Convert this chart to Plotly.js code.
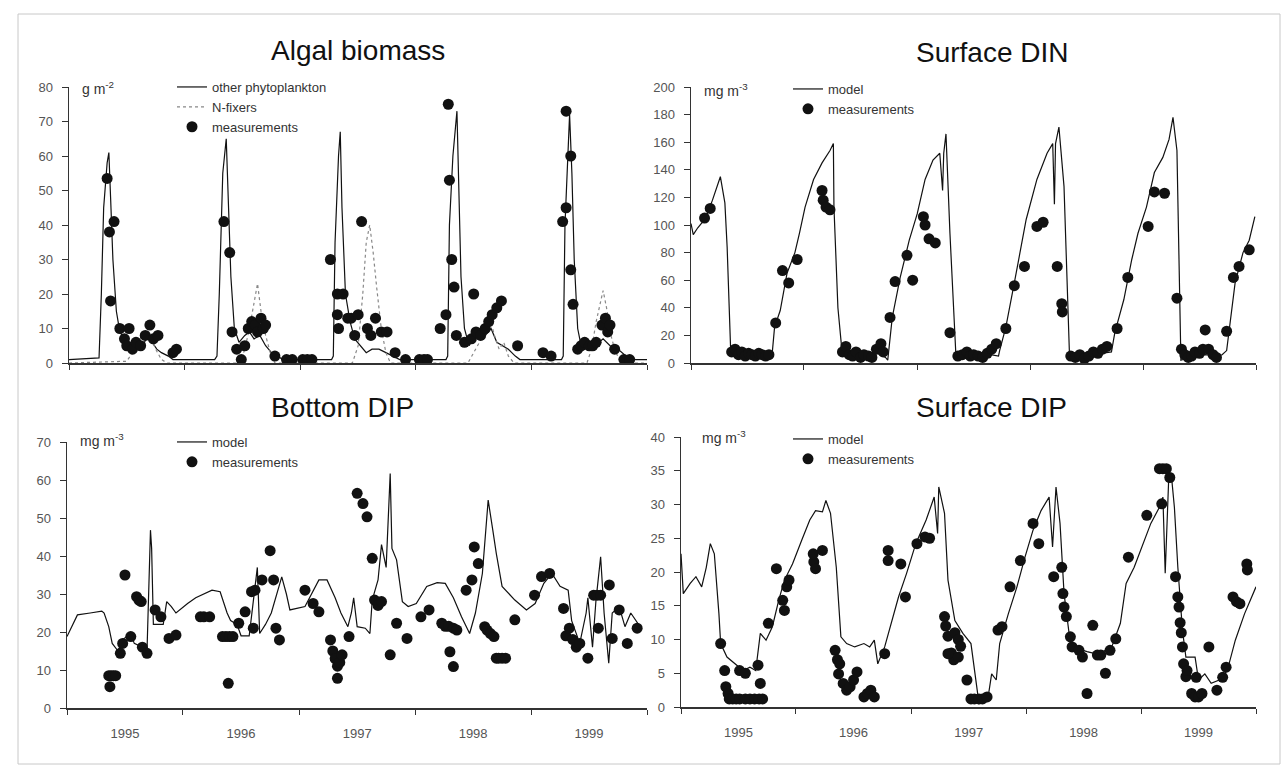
<!DOCTYPE html>
<html>
<head>
<meta charset="utf-8">
<script src="https://cdn.plot.ly/plotly-3.0.1.min.js"></script>
<style>html,body{margin:0;padding:0;background:#fff;}#chart{width:1287px;height:770px;}</style>
</head>
<body>
<div id="chart"></div>
<script>
// ---------- Data (time in decimal years) ----------
// Algal biomass (g m-2)
const algalOtherT = [1995.00,1995.26,1995.28,1995.30,1995.33,1995.345,1995.36,1995.38,1995.41,1995.44,1995.48,1995.52,1995.56,1995.60,1995.64,1995.68,1995.72,1995.76,1995.80,1995.86,1995.90,
  1996.26,1996.28,1996.30,1996.33,1996.36,1996.38,1996.40,1996.43,1996.47,1996.52,1996.56,1996.60,1996.65,1996.70,1996.75,1996.80,1996.85,
  1997.27,1997.285,1997.30,1997.33,1997.345,1997.36,1997.39,1997.43,1997.47,1997.52,1997.57,1997.62,1997.68,1997.74,1997.80,1997.86,
  1998.26,1998.275,1998.29,1998.32,1998.355,1998.37,1998.39,1998.42,1998.46,1998.50,1998.55,1998.60,1998.65,1998.70,1998.75,1998.80,1998.86,1998.90,
  1999.26,1999.275,1999.29,1999.31,1999.33,1999.35,1999.37,1999.40,1999.43,1999.48,1999.55,1999.62,1999.68,1999.75,1999.82,1999.90,2000.00];
const algalOtherV = [1,1.5,20,45,58,61,48,30,15,9,7,5,4,6,5,8,6,4,3,2,1,
  1,2,20,55,65,45,25,10,6,8,9,7,8,5,3,2,1,
  1,2,35,60,67,45,20,12,7,5,3,4,4,3,2,1,
  1,2,40,60,73,50,25,10,5,7,9,8,10,6,5,4,2,1,
  1,2,40,57,72,55,30,10,5,4,5,7,5,4,2,1,1];
const nfixT = [1995.00,1995.50,1995.55,1995.60,1995.65,1995.70,1995.75,1995.80,1995.85,
  1996.48,1996.52,1996.56,1996.60,1996.63,1996.66,1996.70,1996.74,1996.78,
  1997.45,1997.50,1997.54,1997.57,1997.60,1997.63,1997.66,1997.70,1997.74,1997.78,
  1998.45,1998.50,1998.55,1998.60,1998.64,1998.68,1998.72,1998.76,1998.80,1998.85,
  1999.48,1999.52,1999.56,1999.60,1999.62,1999.65,1999.68,1999.72,1999.76,1999.80,2000.00];
const nfixV = [0,0.5,3,6,9,8,4,1,0,
  0,4,10,17,23,15,8,3,0,
  0,5,20,35,40,32,22,10,3,0,
  0,3,6,10,13,8,4,6,2,0,
  0,4,12,18,21,16,9,4,1,0,0];
const algalMeasT = [1995.33,1995.35,1995.39,1995.36,1995.44,1995.52,1995.48,1995.50,1995.55,1995.58,1995.62,1995.66,1995.70,1995.73,1995.77,1995.90,1995.93,
  1996.34,1996.39,1996.41,1996.45,1996.49,1996.52,1996.55,1996.58,1996.61,1996.63,1996.66,1996.68,1996.70,1996.78,1996.88,1996.93,1997.02,1997.06,1997.10,
  1997.26,1997.32,1997.37,1997.32,1997.33,1997.41,1997.44,1997.47,1997.50,1997.53,1997.58,1997.61,1997.65,1997.70,1997.75,1997.82,1997.91,1998.03,1998.07,1998.10,
  1998.21,1998.26,1998.28,1998.29,1998.31,1998.33,1998.35,1998.42,1998.50,1998.48,1998.52,1998.56,1998.60,1998.63,1998.66,1998.70,1998.74,1998.88,
  1999.10,1999.17,1999.27,1999.30,1999.30,1999.34,1999.34,1999.36,1999.40,1999.43,1999.46,1999.50,1999.53,1999.56,1999.61,1999.64,1999.66,1999.68,1999.72,1999.80,1999.85];
const algalMeasV = [53.5,38,41,18,10,10,7,5,4,6,5,8,11,7,8,3,4,
  41,32,9,4,1,5,10,12,11,9,13,10,11,2,1,1,1,1,1,
  30,20,20,14,10,13,13,8,14,41,10,8,13,9,9,3,1,1,1,1,
  10,14,75,53,30,22,8,6,20,7,9,8,10,12,14,16,18,5,
  3,2,41,45,73,60,27,17,4,5,6,5,5,6,11,13,9,11,4,1,1];

// Surface DIN (mg m-3)
const dinModelT = [1995.00,1995.02,1995.06,1995.13,1995.19,1995.26,1995.30,1995.32,1995.35,1995.40,1995.50,1995.60,1995.70,1995.72,
  1995.74,1995.79,1995.85,1995.92,1995.96,1996.01,1996.085,1996.16,1996.23,1996.26,1996.265,1996.30,1996.34,1996.45,1996.55,1996.65,1996.72,
  1996.74,1996.78,1996.85,1996.93,1997.00,1997.07,1997.14,1997.20,1997.225,1997.235,1997.255,1997.29,1997.345,1997.45,1997.55,1997.65,1997.72,
  1997.73,1997.785,1997.86,1997.91,1997.965,1998.06,1998.15,1998.20,1998.215,1998.225,1998.255,1998.30,1998.35,1998.45,1998.55,1998.65,1998.72,
  1998.75,1998.83,1998.90,1998.955,1999.03,1999.10,1999.175,1999.23,1999.265,1999.30,1999.335,1999.45,1999.55,1999.65,1999.70,
  1999.74,1999.815,1999.885,1999.94,1999.99];
const dinModelV = [101,93,98,105,118,135,116,84,12,7,6,5,6,8,
  26,38,65,80,94,113,133,145,154,159,113,40,5,6,5,7,4,
  2,33,62,89,108,133,147,152,125,152,166,94,2,5,4,6,5,
  9,26,58,80,104,133,152,159,115,159,171,128,2,5,6,7,8,
  22,46,75,94,113,138,149,162,178,154,2,5,6,5,6,
  9,58,80,89,106];
const dinMeasT = [1995.12,1995.17,1995.36,1995.39,1995.42,1995.45,1995.48,1995.51,1995.54,1995.57,1995.60,1995.63,1995.66,1995.69,
  1995.75,1995.81,1995.865,1995.94,1996.16,1996.17,1996.195,1996.23,
  1996.34,1996.37,1996.40,1996.43,1996.46,1996.50,1996.53,1996.57,1996.60,1996.64,1996.68,1996.70,
  1996.76,1996.805,1996.91,1996.96,1997.055,1997.07,1997.105,1997.16,1997.29,
  1997.36,1997.40,1997.44,1997.47,1997.50,1997.54,1997.58,1997.62,1997.66,1997.70,
  1997.785,1997.86,1997.95,1998.06,1998.115,1998.24,1998.28,1998.285,
  1998.36,1998.40,1998.44,1998.48,1998.52,1998.56,1998.60,1998.64,1998.68,
  1998.77,1998.865,1999.045,1999.10,1999.19,1999.30,
  1999.34,1999.37,1999.40,1999.43,1999.46,1999.50,1999.53,1999.55,1999.58,1999.62,1999.65,
  1999.74,1999.80,1999.85,1999.94];
const dinMeasV = [105,112,8,10,6,8,5,7,6,5,7,6,5,6,
  29,67,58,75,125,118,113,111,
  8,12,6,5,8,4,6,5,4,10,14,8,
  33,59,78,60,106,100,90,87,22,
  5,6,8,5,6,5,4,7,10,14,
  25,56,70,99,102,70,43,37,
  5,4,6,3,5,8,7,10,12,
  25,62,99,124,123,47,
  10,6,4,5,8,7,10,24,10,6,4,
  23,62,70,82];

// Bottom DIP (mg m-3)
const bdipModelT = [1995.00,1995.09,1995.20,1995.30,1995.32,1995.36,1995.39,1995.44,1995.48,1995.55,1995.58,1995.65,1995.69,1995.72,1995.73,1995.745,1995.83,1995.86,1995.90,1995.94,
  1996.04,1996.11,1996.25,1996.32,1996.38,1996.41,1996.465,1996.50,1996.57,1996.64,1996.66,1996.71,1996.76,1996.85,1996.89,1996.92,
  1997.05,1997.12,1997.17,1997.24,1997.31,1997.36,1997.42,1997.45,1997.47,1997.50,1997.57,1997.61,1997.63,1997.68,1997.71,1997.75,1997.785,1997.80,1997.84,1997.89,1997.94,
  1998.01,1998.10,1998.19,1998.26,1998.33,1998.40,1998.47,1998.52,1998.58,1998.63,1998.67,1998.70,1998.75,1998.86,1998.96,
  1999.035,1999.11,1999.18,1999.25,1999.32,1999.35,1999.42,1999.475,1999.49,1999.53,1999.56,1999.60,1999.63,1999.67,1999.70,1999.76,1999.81,1999.86,1999.94];
const bdipModelV = [18.8,24.5,25,25.5,25,21.4,17,15,18,19.6,17,16,15,46.8,42,22,22,28,26.7,25,
  27.5,29,31,30.6,25,23,22,19,19,37,19.6,22,25,34.5,30,25.8,
  26.7,31,33.7,33.7,29,25,21.4,25,29,21.4,21,19.6,28.4,33.7,43,37,61.7,42,39,28,26.7,
  27.5,32,33,32.8,29,24,19.6,25,35.4,54.7,46.8,40.7,32,28.4,25.8,
  27.5,32.8,35.4,32,31,23,17,25,29,16,28.4,39.8,25,11.8,25,26.7,21.4,25,21.4];
const bdipMeasT = [1995.36,1995.38,1995.40,1995.42,1995.37,1995.46,1995.48,1995.50,1995.55,1995.60,1995.62,1995.64,1995.65,1995.69,1995.76,1995.81,1995.88,1995.94,
  1996.15,1996.18,1996.23,1996.34,1996.37,1996.40,1996.43,1996.39,1996.48,1996.535,1996.605,1996.59,1996.62,1996.68,1996.75,1996.78,1996.80,1996.83,
  1997.05,1997.12,1997.17,1997.27,1997.29,1997.31,1997.33,1997.35,1997.37,1997.33,1997.43,1997.50,1997.55,1997.585,1997.63,1997.65,1997.68,1997.71,1997.785,1997.84,1997.93,
  1998.05,1998.12,1998.23,1998.26,1998.29,1998.33,1998.36,1998.30,1998.33,1998.44,1998.51,1998.49,1998.545,1998.60,1998.62,1998.65,1998.68,1998.70,1998.72,1998.75,1998.78,1998.86,
  1999.03,1999.09,1999.16,1999.28,1999.30,1999.33,1999.36,1999.39,1999.42,1999.49,1999.54,1999.57,1999.60,1999.58,1999.675,1999.70,1999.76,1999.83,1999.915];
const bdipMeasV = [8.5,8.5,8.5,8.5,5.6,14.4,17,35,18.8,29.3,28.4,28,16,14.4,25.8,24,18.3,19.2,
  24,24,24,18.8,18.8,18.8,18.8,6.5,22.3,25.3,21,30.6,31,33.7,41.4,33.7,21,17.9,
  31,27.5,25.3,17.9,15,13,11,12,14,7.8,18.8,56.5,53.8,50.3,39.4,28.4,27,28,14,22.3,18.3,
  24,25.8,22.3,21.5,21.5,21,20.5,14.8,10.9,31,42.4,33.7,38,21.4,20.5,19.6,18.8,13.1,13.1,13.1,13.1,23.2,
  29.7,34.6,35.4,26.2,19,21,18,16,17,13.1,29.7,29.7,29.7,21,32.4,18.3,25.8,17,21];

// Surface DIP (mg m-3)
const sdipModelT = [1995.00,1995.02,1995.08,1995.13,1995.18,1995.22,1995.255,1995.29,1995.33,1995.345,1995.40,1995.47,1995.54,1995.60,1995.65,1995.69,1995.74,1995.795,1995.85,1995.90,1995.97,
  1996.05,1996.12,1996.17,1996.23,1996.26,1996.30,1996.35,1996.39,1996.44,1996.51,1996.59,1996.64,1996.68,1996.71,1996.77,1996.82,1996.89,1996.96,
  1997.04,1997.13,1997.20,1997.23,1997.24,1997.29,1997.32,1997.38,1997.45,1997.52,1997.575,1997.59,1997.665,1997.70,1997.74,1997.77,1997.845,1997.92,1997.99,
  1998.06,1998.13,1998.20,1998.23,1998.26,1998.295,1998.33,1998.385,1998.46,1998.53,1998.60,1998.67,1998.745,1998.82,1998.87,1998.94,
  1999.01,1999.085,1999.16,1999.19,1999.21,1999.24,1999.265,1999.29,1999.32,1999.36,1999.39,1999.47,1999.50,1999.555,1999.61,1999.68,1999.75,1999.82,1999.90,2000.00];
const sdipModelV = [22.7,16.8,18.3,19.3,17.8,20.7,24.2,22.7,13.8,9.4,7.4,6.4,5.4,5.9,5.4,10.9,9.9,11.9,15.8,18.8,21.2,
  24.7,27.7,29.1,28.9,30.6,28.7,20.7,10.4,9.4,8.9,9.4,8.9,9.9,6.4,8.9,11.9,16.3,19.8,
  24.2,27.7,31.1,25.7,32.6,28.7,18.8,12.8,10.9,9.4,3,0.5,1,4.9,4,9.4,13.8,17.8,22.2,
  26.2,29.1,31.1,23.7,32.6,27.2,16.8,9.4,8.6,8.2,7.9,8.2,8.9,12.4,18.3,20.7,
  23.7,27.2,29.6,31.1,19.8,33.6,34.1,29.6,20.7,11.4,7.4,7.4,4,4.9,3.5,4,5.4,9.9,13.8,17.8];
const sdipMeasT = [1995.345,1995.38,1995.39,1995.41,1995.42,1995.45,1995.48,1995.51,1995.56,1995.60,1995.64,1995.68,1995.71,1995.51,1995.56,1995.67,1995.69,1995.76,1995.83,1995.885,1995.90,1995.92,1995.94,
  1996.155,1996.17,1996.15,1996.23,1996.34,1996.36,1996.38,1996.37,1996.41,1996.44,1996.47,1996.50,1996.53,1996.59,1996.62,1996.65,1996.68,1996.77,1996.80,1996.80,1996.91,1996.95,
  1997.05,1997.12,1997.16,1997.29,1997.30,1997.32,1997.35,1997.37,1997.38,1997.41,1997.43,1997.32,1997.41,1997.485,1997.52,1997.55,1997.59,1997.62,1997.66,1997.755,1997.79,1997.86,1997.95,
  1998.06,1998.11,1998.24,1998.31,1998.32,1998.33,1998.35,1998.385,1998.40,1998.46,1998.49,1998.53,1998.58,1998.62,1998.65,1998.69,1998.73,1998.78,1998.89,
  1999.05,1999.16,1999.19,1999.22,1999.18,1999.25,1999.30,1999.32,1999.33,1999.34,1999.35,1999.36,1999.37,1999.39,1999.40,1999.44,1999.47,1999.50,1999.53,1999.48,1999.59,1999.66,1999.71,1999.74,1999.80,1999.83,1999.86,1999.92,1999.925];
const sdipMeasV = [9.4,5.4,3,2,1.2,1.2,1.2,1.2,1.2,1.2,1.2,1.2,1.2,5.4,5,6.2,3.5,12.4,20.5,15.8,14.3,17.8,18.8,
  21.5,20.5,22.7,23.2,8.4,7,6.4,4.9,3.5,2.5,3,4,5.2,1.5,2,2.5,1.5,7.9,21.7,23.2,21.2,16.3,
  24.2,25.2,25,13.4,12,10.5,8,7,11,10,9,7.9,7.4,4,1.2,1.2,1.2,1.2,1.5,11.4,11.9,17.8,21.7,
  27.2,24.2,19.3,20.7,16.8,14.8,13.4,10.4,8.9,8.4,7.4,2,12.1,7.7,7.7,5,8.4,10.1,22.2,
  28.4,35.3,35.3,35.3,30.1,34,19.3,16.3,14.8,12.5,11,8.9,6.4,4.5,5.4,2,1.5,1.5,2,4.4,8.9,2.5,4.4,5.9,16.3,15.6,15.3,21.2,20.3];

// ---------- helpers ----------
function toDate(t){
  const y = Math.floor(t);
  const s = Date.UTC(y,0,1), e = Date.UTC(y+1,0,1);
  return new Date(s + (t - y) * (e - s)).toISOString().slice(0,19).replace('T',' ');
}
const D = arr => arr.map(toDate);
const W = 1287, H = 770;
const px = v => v / W, py = v => 1 - v / H;

const lineStyle = {color:'#111', width:1.2};
const markerStyle = {color:'#111', size:11, symbol:'circle'};

const traces = [
  {x:D(algalOtherT), y:algalOtherV, xaxis:'x', yaxis:'y', mode:'lines', name:'other phytoplankton', line:lineStyle, legend:'legend'},
  {x:D(nfixT), y:nfixV, xaxis:'x', yaxis:'y', mode:'lines', name:'N-fixers', line:{color:'#888', width:1.2, dash:'dot'}, legend:'legend'},
  {x:D(algalMeasT), y:algalMeasV, xaxis:'x', yaxis:'y', mode:'markers', name:'measurements', marker:markerStyle, legend:'legend'},
  {x:D(dinModelT), y:dinModelV, xaxis:'x2', yaxis:'y2', mode:'lines', name:'model', line:lineStyle, legend:'legend2'},
  {x:D(dinMeasT), y:dinMeasV, xaxis:'x2', yaxis:'y2', mode:'markers', name:'measurements', marker:markerStyle, legend:'legend2'},
  {x:D(bdipModelT), y:bdipModelV, xaxis:'x3', yaxis:'y3', mode:'lines', name:'model', line:lineStyle, legend:'legend3'},
  {x:D(bdipMeasT), y:bdipMeasV, xaxis:'x3', yaxis:'y3', mode:'markers', name:'measurements', marker:markerStyle, legend:'legend3'},
  {x:D(sdipModelT), y:sdipModelV, xaxis:'x4', yaxis:'y4', mode:'lines', name:'model', line:lineStyle, legend:'legend4'},
  {x:D(sdipMeasT), y:sdipMeasV, xaxis:'x4', yaxis:'y4', mode:'markers', name:'measurements', marker:markerStyle, legend:'legend4'}
];

const tickFont = {family:'Liberation Sans, Arial, sans-serif', size:13, color:'#555'};
function xAx(d0, d1, anchor, labels){
  return {domain:[px(d0), px(d1)], anchor:anchor, type:'date', range:['1995-01-01','2000-01-01'],
    tick0:'1995-01-01', dtick:'M12', tickformat:'%Y', ticklabelmode:'period',
    showticklabels:labels, ticks:'outside', ticklen:5, tickcolor:'#333',
    showline:true, linecolor:'#333', linewidth:1.5, showgrid:false, zeroline:false,
    tickfont:tickFont, ticklabelstandoff:8, fixedrange:true};
}
function yAx(top, bottom, anchor, max, step){
  return {domain:[py(bottom), py(top)], anchor:anchor, range:[0,max], dtick:step, tick0:0,
    ticks:'outside', ticklen:6, tickcolor:'#333', showline:true, linecolor:'#333', linewidth:1.5,
    showgrid:false, zeroline:false, tickfont:tickFont, ticklabelstandoff:6, fixedrange:true};
}
function legendAt(x, y){
  return {x:px(x), y:py(y), xanchor:'left', yanchor:'top', bgcolor:'rgba(0,0,0,0)',
    font:{family:'Liberation Sans, Arial, sans-serif', size:13, color:'#333'}, tracegroupgap:0, itemwidth:30};
}
const titleFont = {family:'Liberation Sans, Arial, sans-serif', size:28, color:'#111'};
const unitFont = {family:'Liberation Sans, Arial, sans-serif', size:14, color:'#333'};

function title(text, x, y){
  return {text:text, x:px(x), y:py(y), xref:'paper', yref:'paper', xanchor:'center', yanchor:'middle', showarrow:false, font:titleFont};
}
function unit(text, x, y){
  return {text:text, x:px(x), y:py(y), xref:'paper', yref:'paper', xanchor:'left', yanchor:'middle', showarrow:false, font:unitFont};
}

const layout = {
  width:W, height:H, margin:{l:0,r:0,t:0,b:0}, paper_bgcolor:'#fff', plot_bgcolor:'#fff', showlegend:true,
  xaxis: xAx(69, 647, 'y', false),
  yaxis: yAx(87, 363, 'x', 80, 10),
  xaxis2: xAx(691, 1256, 'y2', false),
  yaxis2: yAx(87, 363, 'x2', 200, 20),
  xaxis3: xAx(67, 647, 'y3', true),
  yaxis3: yAx(442, 708, 'x3', 70, 10),
  xaxis4: xAx(681, 1256, 'y4', true),
  yaxis4: yAx(437, 707, 'x4', 40, 5),
  legend: legendAt(172, 72),
  legend2: legendAt(788, 74),
  legend3: legendAt(172, 427),
  legend4: legendAt(788, 424),
  annotations: [
    title('Algal biomass', 358, 50),
    title('Surface DIN', 992, 52),
    title('Bottom DIP', 342, 408),
    title('Surface DIP', 991, 408),
    unit('g m<sup>-2</sup>', 80, 88),
    unit('mg m<sup>-3</sup>', 702, 90),
    unit('mg m<sup>-3</sup>', 78, 440),
    unit('mg m<sup>-3</sup>', 700, 437)
  ],
  shapes: [
    {type:'rect', xref:'paper', yref:'paper', x0:px(18), x1:px(1280), y0:py(764), y1:py(14), line:{color:'#c8c8c8', width:1}}
  ]
};

Plotly.newPlot('chart', traces, layout, {displayModeBar:false, staticPlot:true});
</script>
</body>
</html>
